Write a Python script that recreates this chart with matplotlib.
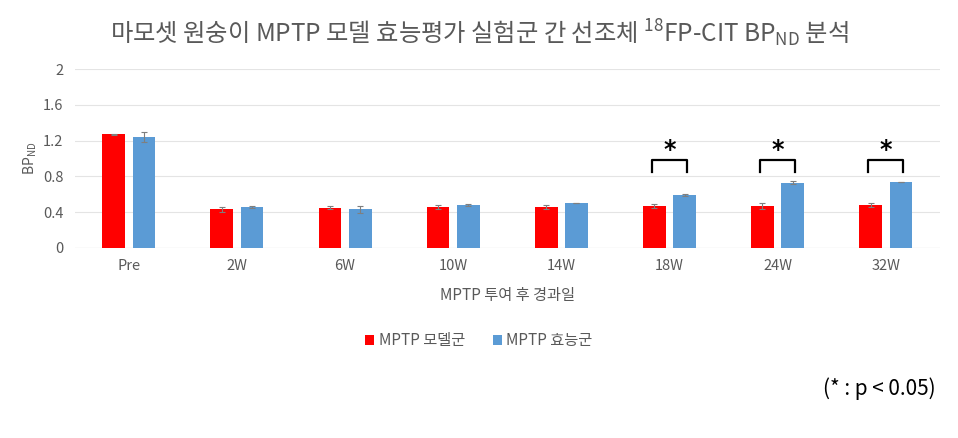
import numpy as np
import matplotlib
matplotlib.use('Agg')
import matplotlib.pyplot as plt

plt.rcParams['font.family'] = ['Noto Sans CJK KR', 'DejaVu Sans']
plt.rcParams['mathtext.fontset'] = 'custom'
plt.rcParams['mathtext.rm'] = 'Noto Sans CJK KR'
plt.rcParams['mathtext.it'] = 'Noto Sans CJK KR'
plt.rcParams['mathtext.bf'] = 'Noto Sans CJK KR'

# data
categories = ['Pre', '2W', '6W', '10W', '14W', '18W', '24W', '32W']
model = [1.27, 0.43, 0.45, 0.46, 0.46, 0.47, 0.47, 0.48]
model_err = [0.01, 0.03, 0.02, 0.02, 0.02, 0.02, 0.03, 0.02]
effect = [1.24, 0.46, 0.43, 0.48, 0.50, 0.59, 0.73, 0.74]
effect_err = [0.06, 0.01, 0.04, 0.01, 0.00, 0.01, 0.02, 0.00]
sig = [False, False, False, False, False, True, True, True]

red = '#FF0000'
blue = '#5B9BD5'
grey = '#595959'

fig = plt.figure(figsize=(9.58, 4.38), dpi=100)
ax = fig.add_axes([0.078, 0.434, 0.903, 0.408])

x = np.arange(len(categories))
w = 0.21
off = 0.14
ax.bar(x - off, model, w, color=red, label='MPTP 모델군', zorder=3)
ax.bar(x + off, effect, w, color=blue, label='MPTP 효능군', zorder=3)
ax.errorbar(x - off, model, yerr=model_err, fmt='none', ecolor='#7F7F7F',
            elinewidth=0.8, capsize=2.5, capthick=0.8, zorder=4)
ax.errorbar(x + off, effect, yerr=effect_err, fmt='none', ecolor='#7F7F7F',
            elinewidth=0.8, capsize=2.5, capthick=0.8, zorder=4)

# significance brackets
for i, s in enumerate(sig):
    if s:
        ax.plot([i - off - 0.02, i - off - 0.02, i + off + 0.02, i + off + 0.02],
                [0.85, 0.98, 0.98, 0.85], color='black', lw=1.6, clip_on=False)
        ax.text(i, 1.1, '*', ha='center', va='center', fontsize=17,
                fontweight='bold', color='black', family='DejaVu Sans')

ax.set_xlim(-0.5, len(categories) - 0.5)
ax.set_ylim(0, 2)
ax.set_yticks([0, 0.4, 0.8, 1.2, 1.6, 2])
ax.set_yticklabels(['0', '0.4', '0.8', '1.2', '1.6', '2'])
ax.set_xticks(x)
ax.set_xticklabels(categories)
ax.tick_params(axis='both', length=0, colors=grey, labelsize=10.5, pad=8)
ax.yaxis.grid(True, color='#E4E4E4', lw=0.8, zorder=0)
for sp in ax.spines.values():
    sp.set_visible(False)
ax.axhline(0, color='#D9D9D9', lw=0.8, zorder=1)

ax.set_ylabel('BP$_{\\mathrm{ND}}$', color=grey, fontsize=10, labelpad=3)
ax.set_xlabel('MPTP 투여 후 경과일', color=grey, fontsize=11, labelpad=10)

fig.text(0.5, 0.925, '마모셋 원숭이 MPTP 모델 효능평가 실험군 간 선조체 $^{18}$FP-CIT BP$_{\\mathrm{ND}}$ 분석',
         ha='center', va='center', fontsize=17.5, color=grey)

leg = fig.legend(loc='center', bbox_to_anchor=(0.5, 0.222), ncol=2, frameon=False,
                 fontsize=11, handlelength=0.6, handleheight=0.6,
                 handletextpad=0.3, columnspacing=1.8)
for t in leg.get_texts():
    t.set_color(grey)

fig.text(0.977, 0.112, '(* : p < 0.05)', ha='right', va='center', fontsize=15,
         color='black')

fig.savefig('out.png', dpi=100)
